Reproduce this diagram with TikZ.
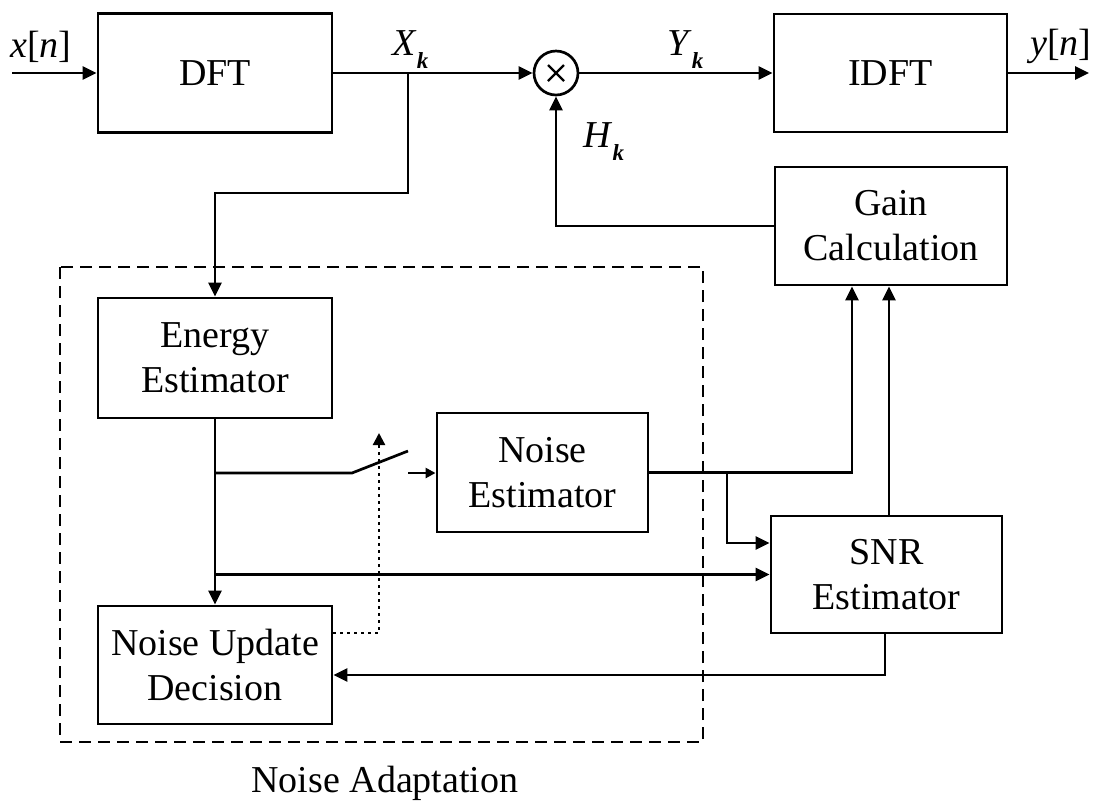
\documentclass[tikz,border=0pt]{standalone}
\usepackage{fontspec}
\setmainfont{Liberation Serif}
\usetikzlibrary{arrows.meta,calc}
\newcommand{\subk}{\raisebox{-6.5pt}{\fontsize{11.5pt}{11.5pt}\selectfont\bfseries\itshape k}}
\begin{document}
\begin{tikzpicture}[x=0.5pt,y=-0.5pt,
  blk/.style={draw,line width=1.45pt,align=center,font=\fontsize{19pt}{22.5pt}\selectfont,inner sep=0pt},
  conn/.style={line width=1.35pt},
  arr/.style={conn,-{Triangle[length=7pt,width=6.5pt]}},
  smallarr/.style={conn,-{Triangle[length=5pt,width=5pt]}},
  dotarr/.style={line width=1.1pt,dash pattern=on 1.2pt off 2.3pt,-{Triangle[length=6pt,width=6pt]}},
  dashbox/.style={line width=1.35pt,dash pattern=on 6pt off 3.5pt},
  lbl/.style={font=\fontsize{19pt}{22.5pt}\selectfont,inner sep=0pt,anchor=base west}
]
\useasboundingbox (0,0) rectangle (1097,800);

% blocks
\node[blk,minimum width=117pt,minimum height=59.5pt] (dft) at (215,73) {DFT};
\node[blk,minimum width=116.5pt,minimum height=59pt] (idft) at (890.5,73) {IDFT};
\node[blk,minimum width=116pt,minimum height=59pt] (gain) at (891,226) {Gain\\Calculation};
\node[blk,minimum width=117pt,minimum height=60pt] (energy) at (215,358) {Energy\\Estimator};
\node[blk,minimum width=105.5pt,minimum height=59.5pt] (noise) at (542.5,472.5) {Noise\\Estimator};
\node[blk,minimum width=115.5pt,minimum height=58.5pt] (snr) at (886.5,574.5) {SNR\\Estimator};
\node[blk,minimum width=117pt,minimum height=59pt] (nud) at (215,665) {Noise Update\\Decision};
\node[draw,circle,line width=1.35pt,minimum size=22pt,inner sep=0pt] (mult) at (556,73) {};
\draw[line width=1.2pt] ($(mult.center)+(-8,-8)$) -- ($(mult.center)+(8,8)$);
\draw[line width=1.2pt] ($(mult.center)+(-8,8)$) -- ($(mult.center)+(8,-8)$);

% labels
\node[lbl] (xn) at (10,57) {\textit{x}[\textit{n}]};
\node[lbl] (xk) at (392,55) {\textit{X}\subk};
\node[lbl] (yk) at (667,55) {\textit{Y}\subk};
\node[lbl] (hk) at (583,147) {\textit{H}\subk};
\node[lbl] (yn) at (1030,55) {\textit{y}[\textit{n}]};
\node[font=\fontsize{19pt}{22.5pt}\selectfont,inner sep=0pt,anchor=base] (nalbl) at (385,792) {Noise Adaptation};

% dashed group
\draw[dashbox] (60,267) rectangle (703,742);

% top row
\coordinate (in) at (12,73);
\coordinate (out) at (1089,73);
\draw[arr] (in) -- (dft.west);
\draw[arr] (dft.east) -- (mult.west);
\draw[arr] (mult.east) -- (idft.west);
\draw[arr] (idft.east) -- (out);

% branch to energy estimator
\coordinate (xb) at (408,73);
\coordinate (xc) at (408,193);
\draw[arr] (xb) -- (xc) -| (energy.north);

% gain to multiplier
\draw[arr] (gain.west) -| (mult.south);

% energy to noise update decision
\draw[arr] (energy.south) -- (nud.north);

% switch
\coordinate (sw1) at (352,473);
\coordinate (sw2) at (408,451);
\coordinate (sw3) at (408,473);
\draw[conn] (energy.south |- sw1) -- (sw1) -- (sw2);
\draw[smallarr] (sw3) -- (noise.west |- sw3);

% energy to SNR
\draw[arr] (energy.south |- snr.west) -- (snr.west);

% noise estimator to gain and SNR
\coordinate (g1) at (852,0);
\draw[arr] (noise.east) -| (gain.south -| g1);
\coordinate (nb) at (727,0);
\coordinate (sa) at (0,543);
\draw[arr] (noise.east -| nb) |- (snr.west |- sa);

% SNR to gain
\coordinate (g2) at (889,0);
\draw[arr] (snr.north -| g2) -- (gain.south -| g2);

% SNR to noise update decision
\coordinate (sb) at (885,0);
\coordinate (nl) at (0,675);
\draw[arr] (snr.south -| sb) |- (nud.east |- nl);

% control (dotted)
\coordinate (dc) at (379,633);
\coordinate (ctl) at (379,433);
\draw[dotarr] (nud.east |- dc) -- (dc) -- (ctl);
\end{tikzpicture}
\end{document}
